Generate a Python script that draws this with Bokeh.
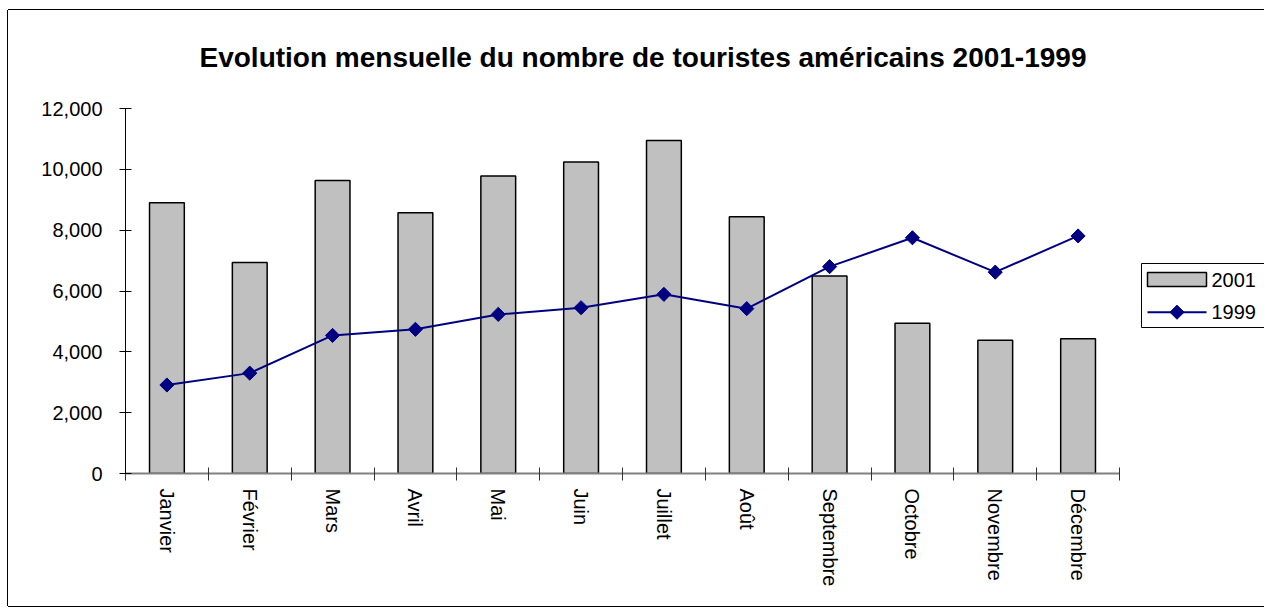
import math
from bokeh.plotting import figure
from bokeh.models import Range1d, FixedTicker, NumeralTickFormatter
from bokeh.core.properties import value
from bokeh.embed import file_html
from bokeh.resources import INLINE

# ---- data ----
months = ["Janvier", "Février", "Mars", "Avril", "Mai", "Juin", "Juillet",
          "Août", "Septembre", "Octobre", "Novembre", "Décembre"]
tourists_2001 = [8900, 6940, 9630, 8570, 9780, 10240, 10950, 8440, 6490, 4940, 4380, 4430]
tourists_1999 = [2910, 3300, 4540, 4740, 5230, 5450, 5890, 5420, 6800, 7750, 6620, 7810]
series_names = ["2001", "1999"]
y_ticks = [0, 2000, 4000, 6000, 8000, 10000, 12000]
title_text = "Evolution mensuelle du nombre de touristes américains 2001-1999"

n = len(months)
centers = [i + 0.5 for i in range(n)]
bounds = list(range(n + 1))
Y_MAX = 12000

FONT = "Liberation Sans"
BAR_COLOR = "#C0C0C0"
LINE_COLOR = "#000080"

# ---- layout (pixels) ----
W, H = 1256, 596
ML, MR, MT, MB = 117, 0, 98, 133
axis_px = 994                      # width in px of the 12 month slots
frame_w = W - ML - MR
frame_h = H - MT - MB
x_end = n * frame_w / axis_px
PAGE_X0, PAGE_Y0 = 9, 11           # canvas origin on the page
FRAME_L = PAGE_X0 + ML
FRAME_B = PAGE_Y0 + H - MB


def dx(px):
    """page x pixel -> data x"""
    return (px - FRAME_L) * n / axis_px


def dy(py):
    """page y pixel -> data y"""
    return (FRAME_B - py) * Y_MAX / frame_h


p = figure(width=W, height=H, output_backend="svg", toolbar_location=None,
           x_range=Range1d(0, x_end), y_range=Range1d(0, Y_MAX),
           min_border_left=ML, min_border_right=MR, min_border_top=MT,
           min_border_bottom=MB)
p.styles = {"margin-left": "8px", "margin-top": "10px",
            "box-shadow": "-1px 0 0 0 black, 0 -1px 0 0 black, 0 1px 0 0 black"}
p.outline_line_color = None
p.xgrid.visible = False
p.ygrid.visible = False
p.background_fill_color = "white"
p.border_fill_color = "white"

# title
p.title.text = title_text
p.title.text_font = FONT
p.title.text_font_style = "bold"
p.title.text_font_size = "28px"
p.title.align = "left"
p.title.offset = 74
p.title.vertical_align = "top"
p.title.standoff = 0
p.title.padding = dict(left=0, right=0, top=0, bottom=34)
p.title.text_color = "black"

# bars
p.vbar(x=centers, top=tourists_2001, bottom=0, width=0.42,
       fill_color=BAR_COLOR, line_color="black", line_width=1.5)
# line
p.line(x=centers, y=tourists_1999, line_color=LINE_COLOR, line_width=2)
p.scatter(x=centers, y=tourists_1999, marker="square", angle=math.pi / 4,
          size=10, fill_color=LINE_COLOR, line_color=LINE_COLOR)

# x axis
xa = p.xaxis[0]
xa.bounds = (0, n)
xa.ticker = FixedTicker(ticks=centers, minor_ticks=bounds)
xa.major_label_overrides = {c: m for c, m in zip(centers, months)}
xa.major_label_orientation = "vertical"
xa.major_tick_in = 0
xa.major_tick_out = 0
xa.minor_tick_in = 6
xa.minor_tick_out = 7
xa.minor_tick_line_color = "#333333"
xa.minor_tick_line_width = 1
xa.axis_line_color = "#808080"
xa.axis_line_width = 2
xa.major_label_text_font = FONT
xa.major_label_text_font_size = "20px"
xa.major_label_text_color = "black"
xa.major_label_standoff = 8

# y axis
ya = p.yaxis[0]
ya.ticker = FixedTicker(ticks=y_ticks)
ya.formatter = NumeralTickFormatter(format="0,0")
ya.major_tick_in = 6
ya.major_tick_out = 6
ya.minor_tick_line_color = None
ya.axis_line_color = "black"
ya.axis_line_width = 1
ya.major_tick_line_color = "black"
ya.major_label_text_font = FONT
ya.major_label_text_font_size = "20px"
ya.major_label_text_color = "black"
ya.major_label_standoff = 17

# ---- legend (drawn in the right margin of the frame, clipped at the edge) ----
LG_L, LG_R, LG_T, LG_B = 1142, 1320, 264, 328
SW_L, SW_R = 1148, 1207
ROW1, ROW2 = 280, 312.7
p.quad(left=[dx(LG_L)], right=[dx(LG_R)], top=[dy(LG_T)], bottom=[dy(LG_B)],
       fill_color="white", line_color="black", line_width=1)
p.quad(left=[dx(SW_L)], right=[dx(SW_R)], top=[dy(ROW1 - 7)], bottom=[dy(ROW1 + 7)],
       fill_color=BAR_COLOR, line_color="black", line_width=1.5)
p.line(x=[dx(SW_L), dx(SW_R)], y=[dy(ROW2), dy(ROW2)], line_color=LINE_COLOR, line_width=2)
p.scatter(x=[dx((SW_L + SW_R) / 2)], y=[dy(ROW2)], marker="square", angle=math.pi / 4,
          size=10, fill_color=LINE_COLOR, line_color=LINE_COLOR)
p.text(x=[dx(1212), dx(1212)], y=[dy(ROW1), dy(ROW2)], text=series_names,
       text_font=value(FONT), text_font_size="20px", text_color="black",
       text_align="left", text_baseline="middle")

open("out.html", "w").write(file_html(p, INLINE))
